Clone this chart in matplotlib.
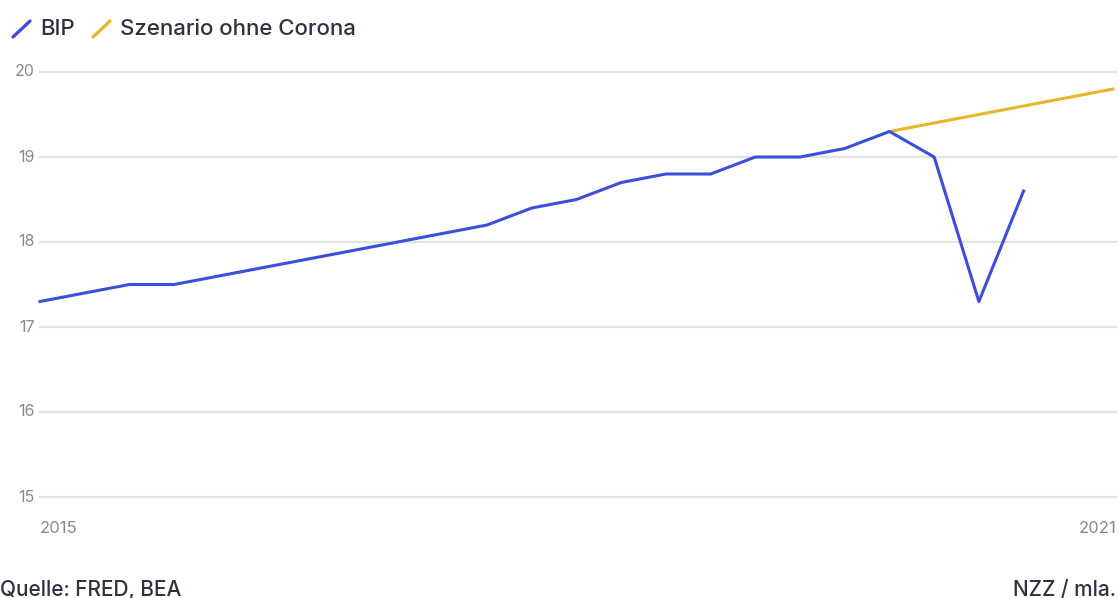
import matplotlib
matplotlib.use('Agg')
import numpy as np
import matplotlib.pyplot as plt
import matplotlib.lines as mlines

# quarterly real GDP, USD trillions
quarters = [2015 + i / 4.0 for i in range(23)]
bip = [17.3, 17.4, 17.5, 17.5, 17.6, 17.7, 17.8, 17.9, 18.0, 18.1, 18.2, 18.4,
       18.5, 18.7, 18.8, 18.8, 19.0, 19.0, 19.1, 19.3, 19.0, 17.3, 18.6]

# trend scenario from 2019 Q4 onwards
scen_quarters = [2019.75 + i / 4.0 for i in range(6)]
scenario = [19.3, 19.4, 19.5, 19.6, 19.7, 19.8]

y_ticks = [15, 16, 17, 18, 19, 20]

blue = '#3b4fdb'
yellow = '#e5b82a'
text_col = '#2f3140'
tick_col = '#8a8a8a'
grid_col = '#e3e3e3'

plt.rcParams['font.family'] = ['Inter', 'DejaVu Sans']

fig = plt.figure(figsize=(11.19, 5.98), dpi=100)
ax = fig.add_axes([40 / 1119, 101 / 598, 1073 / 1119, 425 / 598])

for y in y_ticks:
    ax.axhline(y, color=grid_col, lw=1.6, zorder=0, clip_on=False, xmax=1.003)

ax.plot(scen_quarters, scenario, color=yellow, lw=2.2, clip_on=False, zorder=2)
ax.plot(quarters, bip, color=blue, lw=2.2, clip_on=False, zorder=3)

ax.set_xlim(2015, 2021)
ax.set_ylim(15, 20)
for s in ax.spines.values():
    s.set_visible(False)
ax.set_xticks([])
ax.set_yticks([])

# y tick labels left of the grid lines
for y in y_ticks:
    ax.text(-0.005, y, str(y), transform=ax.get_yaxis_transform(),
            ha='right', va='center', fontsize=11.5, color=tick_col)

ax.text(0, -0.075, '2015', transform=ax.transAxes, ha='left', va='center',
        fontsize=12, color=tick_col)
ax.text(1.003, -0.075, '2021', transform=ax.transAxes, ha='right', va='center',
        fontsize=12, color=tick_col)

# legend with slash markers
def slash(x0, col):
    fig.add_artist(mlines.Line2D([x0 / 1119, (x0 + 17) / 1119],
                                 [1 - 37 / 598, 1 - 21 / 598],
                                 color=col, lw=2.4, solid_capstyle='round'))

slash(13, blue)
fig.text(40 / 1119, 1 - 29 / 598, 'BIP', ha='left', va='center',
         fontsize=16, fontweight='medium', color=text_col)
slash(93, yellow)
fig.text(120 / 1119, 1 - 29 / 598, 'Szenario ohne Corona', ha='left', va='center',
         fontsize=16, fontweight='medium', color=text_col)

fig.text(0 / 1119, 1 - 590 / 598, 'Quelle: FRED, BEA', ha='left', va='center',
         fontsize=15, fontweight='medium', color=text_col)
fig.text(1116 / 1119, 1 - 590 / 598, 'NZZ / mla.', ha='right', va='center',
         fontsize=15, fontweight='medium', color=text_col)

fig.savefig('out.png', dpi=100, facecolor='white')
